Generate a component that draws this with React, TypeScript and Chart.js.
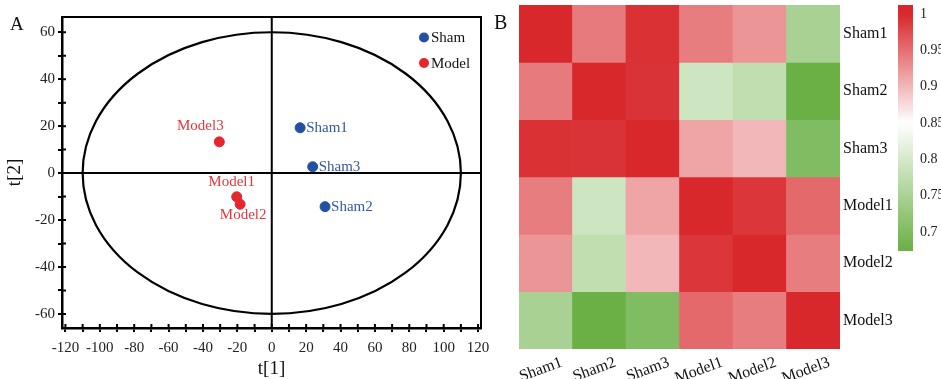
import React, { useEffect, useRef } from 'react';
import { Chart, registerables } from 'chart.js';

Chart.register(...registerables);

const SERIF = '"Liberation Serif", "Times New Roman", serif';

// ---------- Panel A data (PCA scores) ----------
const shamNames = ['Sham1', 'Sham2', 'Sham3'];
const shamT1 = [16.5, 31, 23.8];
const shamT2 = [19.3, -14.3, 2.7];
const modelNames = ['Model1', 'Model2', 'Model3'];
const modelT1 = [-20.4, -18.4, -30.5];
const modelT2 = [-10.1, -13.3, 13.3];
const xTickValues = [-120, -110, -100, -90, -80, -70, -60, -50, -40, -30, -20, -10, 0, 10, 20, 30, 40, 50, 60, 70, 80, 90, 100, 110, 120];
const yTickValues = [-60, -50, -40, -30, -20, -10, 0, 10, 20, 30, 40, 50, 60];
const ELLIPSE_T1 = 110;
const ELLIPSE_T2 = 60;

// ---------- Panel B data (correlation heatmap) ----------
const sampleNames = ['Sham1', 'Sham2', 'Sham3', 'Model1', 'Model2', 'Model3'];
const corrSham1 = [1, 0.943, 0.994, 0.941, 0.924, 0.748];
const corrSham2 = [0.943, 1, 0.992, 0.792, 0.776, 0.675];
const corrSham3 = [0.994, 0.992, 1, 0.913, 0.9, 0.701];
const corrModel1 = [0.941, 0.792, 0.913, 1, 0.99, 0.955];
const corrModel2 = [0.924, 0.776, 0.9, 0.99, 1, 0.941];
const corrModel3 = [0.748, 0.675, 0.701, 0.955, 0.941, 1];
const corrRows = [corrSham1, corrSham2, corrSham3, corrModel1, corrModel2, corrModel3];
const colorbarTicks = [0.7, 0.75, 0.8, 0.85, 0.9, 0.95, 1];
const COLORBAR_MIN = 0.674;
const COLORBAR_MAX = 1.0125;

// ---------- styles ----------
const BLUE = '#2450a4';
const BLUE_TEXT = '#3556a8';
const RED = '#e5262c';
const RED_TEXT = '#e8353b';
const C_LOW = [106, 176, 69];
const C_MID = [255, 255, 255];
const C_HIGH = [216, 40, 44];
const V_LOW = 0.675;
const V_MID = 0.85;
const V_HIGH = 1.0;

const labelPlacement: Record<string, { dx: number; dy: number; align: CanvasTextAlign }> = {
  Sham1: { dx: 6, dy: 0, align: 'left' },
  Sham2: { dx: 6, dy: 0, align: 'left' },
  Sham3: { dx: 6, dy: 0, align: 'left' },
  Model1: { dx: -5, dy: -15, align: 'center' },
  Model2: { dx: 3, dy: 11, align: 'center' },
  Model3: { dx: -19, dy: -16, align: 'center' },
};

function mix(a: number[], b: number[], t: number) {
  const tt = Math.max(0, Math.min(1, t));
  const c = a.map((v, i) => Math.round(v + (b[i] - v) * tt));
  return `rgb(${c[0]},${c[1]},${c[2]})`;
}
function colorFor(v: number) {
  if (v <= V_MID) return mix(C_LOW, C_MID, (v - V_LOW) / (V_MID - V_LOW));
  return mix(C_MID, C_HIGH, (v - V_MID) / (V_HIGH - V_MID));
}

const zeroPad = (s: any) => {
  s.paddingTop = 0;
  s.paddingBottom = 0;
  s.paddingLeft = 0;
  s.paddingRight = 0;
};

const pcaPlugin = {
  id: 'pcaDecor',
  beforeDatasetsDraw(chart: any) {
    const { ctx, chartArea: a } = chart;
    const xs = chart.scales.x;
    const ys = chart.scales.y;
    ctx.save();
    ctx.strokeStyle = '#000';
    const cx = xs.getPixelForValue(0);
    const cy = ys.getPixelForValue(0);
    const rx = Math.abs(xs.getPixelForValue(ELLIPSE_T1) - cx);
    const ry = Math.abs(ys.getPixelForValue(ELLIPSE_T2) - cy);
    ctx.lineWidth = 2.2;
    ctx.beginPath();
    ctx.ellipse(cx, cy, rx, ry, 0, 0, Math.PI * 2);
    ctx.stroke();
    ctx.lineWidth = 2;
    ctx.beginPath();
    ctx.moveTo(cx, a.top);
    ctx.lineTo(cx, a.bottom);
    ctx.moveTo(a.left, cy);
    ctx.lineTo(a.right, cy);
    ctx.stroke();
    ctx.beginPath();
    ctx.moveTo(a.left, a.top);
    ctx.lineTo(a.right, a.top);
    ctx.lineTo(a.right, a.bottom);
    ctx.stroke();
    ctx.beginPath();
    xs.ticks.forEach((t: any) => {
      const px = xs.getPixelForValue(t.value);
      ctx.moveTo(px, a.bottom);
      ctx.lineTo(px, a.bottom - 4);
    });
    ys.ticks.forEach((t: any) => {
      const py = ys.getPixelForValue(t.value);
      ctx.moveTo(a.left, py);
      ctx.lineTo(a.left + 4, py);
    });
    ctx.stroke();
    ctx.restore();
  },
  afterDatasetsDraw(chart: any) {
    const { ctx } = chart;
    ctx.save();
    ctx.font = `15px ${SERIF}`;
    ctx.textBaseline = 'middle';
    const groups = [
      { names: shamNames, color: BLUE_TEXT, idx: 0 },
      { names: modelNames, color: RED_TEXT, idx: 1 },
    ];
    groups.forEach((g) => {
      const meta = chart.getDatasetMeta(g.idx);
      meta.data.forEach((el: any, i: number) => {
        const name = g.names[i];
        const p = labelPlacement[name];
        ctx.fillStyle = g.color;
        ctx.textAlign = p.align;
        ctx.fillText(name, el.x + p.dx, el.y + p.dy);
      });
    });
    const legendItems = [
      { text: 'Sham', color: BLUE, y: 37.5 },
      { text: 'Model', color: RED, y: 63 },
    ];
    legendItems.forEach((it) => {
      ctx.fillStyle = it.color;
      ctx.beginPath();
      ctx.arc(424, it.y, 5, 0, Math.PI * 2);
      ctx.fill();
      ctx.fillStyle = '#111';
      ctx.textAlign = 'left';
      ctx.fillText(it.text, 431, it.y + 1);
    });
    ctx.font = `19px ${SERIF}`;
    ctx.textBaseline = 'alphabetic';
    ctx.fillStyle = '#111';
    ctx.textAlign = 'left';
    ctx.fillText('A', 10, 30);
    ctx.restore();
  },
};

const heatPlugin = {
  id: 'heatDecor',
  afterDraw(chart: any) {
    const { ctx } = chart;
    ctx.save();
    ctx.font = `20px ${SERIF}`;
    ctx.fillStyle = '#111';
    ctx.textBaseline = 'alphabetic';
    ctx.fillText('B', 4, 29);
    ctx.restore();
  },
};

export default function App() {
  const refA = useRef<HTMLCanvasElement>(null);
  const refB = useRef<HTMLCanvasElement>(null);
  const refC = useRef<HTMLCanvasElement>(null);

  useEffect(() => {
    const tickFont = { family: SERIF, size: 15 };
    const chartA = new Chart(refA.current!, {
      type: 'scatter',
      data: {
        datasets: [
          {
            label: 'Sham',
            data: shamT1.map((x, i) => ({ x, y: shamT2[i] })),
            backgroundColor: BLUE,
            borderColor: BLUE,
            pointRadius: 5,
            pointHoverRadius: 5,
          },
          {
            label: 'Model',
            data: modelT1.map((x, i) => ({ x, y: modelT2[i] })),
            backgroundColor: RED,
            borderColor: RED,
            pointRadius: 5,
            pointHoverRadius: 5,
          },
        ],
      },
      options: {
        animation: false,
        responsive: false,
        layout: { padding: { top: 17, right: 19, left: 0, bottom: 0 } },
        plugins: { legend: { display: false }, tooltip: { enabled: false } },
        scales: {
          x: {
            type: 'linear',
            min: -122,
            max: 121.7,
            afterBuildTicks: (s: any) => {
              s.ticks = xTickValues.map((v) => ({ value: v }));
            },
            afterFit: (s: any) => {
              s.height = 51;
              zeroPad(s);
            },
            ticks: {
              callback: (v: any) => (Number(v) % 20 === 0 ? String(v) : ''),
              font: tickFont,
              color: '#222',
              padding: 7,
              maxRotation: 0,
              autoSkip: false,
            },
            grid: { drawOnChartArea: false, drawTicks: true, tickLength: 4, color: '#000', lineWidth: 2 },
            border: { color: '#000', width: 2.5 },
            title: { display: true, text: 't[1]', font: { family: SERIF, size: 19, lineHeight: 1 }, color: '#111', padding: 0 },
          },
          y: {
            type: 'linear',
            min: -66,
            max: 66.5,
            afterBuildTicks: (s: any) => {
              s.ticks = yTickValues.map((v) => ({ value: v }));
            },
            afterFit: (s: any) => {
              s.width = 62;
              zeroPad(s);
            },
            ticks: {
              callback: (v: any) => (Number(v) % 20 === 0 ? String(v) : ''),
              font: tickFont,
              color: '#222',
              padding: 3,
              autoSkip: false,
            },
            grid: { drawOnChartArea: false, drawTicks: true, tickLength: 4, color: '#000', lineWidth: 2 },
            border: { color: '#000', width: 2.5 },
            title: { display: true, text: 't[2]', font: { family: SERIF, size: 19 }, color: '#111', padding: { top: 4, bottom: 0 } },
          },
        },
      },
      plugins: [pcaPlugin],
    } as any);

    const labelFont = { family: SERIF, size: 16 };
    const chartB = new Chart(refB.current!, {
      type: 'bar',
      data: {
        labels: sampleNames,
        datasets: corrRows.map((row, r) => ({
          label: sampleNames[r],
          data: sampleNames.map(() => [5 - r, 6 - r]),
          backgroundColor: row.map(colorFor),
          borderWidth: 0,
          grouped: false,
          barPercentage: 1,
          categoryPercentage: 1,
        })),
      },
      options: {
        animation: false,
        responsive: false,
        layout: { padding: { top: 5, left: 29, right: 0, bottom: 0 } },
        plugins: { legend: { display: false }, tooltip: { enabled: false } },
        scales: {
          x: {
            type: 'category',
            position: 'bottom',
            afterFit: (s: any) => {
              s.height = 30;
              zeroPad(s);
            },
            ticks: {
              font: labelFont,
              color: '#111',
              minRotation: 20,
              maxRotation: 20,
              labelOffset: 16,
              padding: 4,
              autoSkip: false,
            },
            grid: { display: false, drawTicks: false },
            border: { display: false },
          },
          y: {
            type: 'linear',
            position: 'right',
            min: 0,
            max: 6,
            afterBuildTicks: (s: any) => {
              s.ticks = sampleNames.map((_, i) => ({ value: 5.5 - i }));
            },
            afterFit: (s: any) => {
              s.width = 101;
              zeroPad(s);
            },
            ticks: {
              callback: (v: any) => sampleNames[Math.round(5.5 - Number(v))],
              font: labelFont,
              color: '#111',
              padding: 3,
              autoSkip: false,
            },
            grid: { display: false, drawTicks: false },
            border: { display: false },
          },
        },
      },
      plugins: [heatPlugin],
    } as any);

    const chartC = new Chart(refC.current!, {
      type: 'bar',
      data: {
        labels: ['scale'],
        datasets: [
          {
            data: [[COLORBAR_MIN, COLORBAR_MAX]],
            borderWidth: 0,
            barPercentage: 1,
            categoryPercentage: 1,
            backgroundColor: (ctx: any) => {
              const chart = ctx.chart;
              if (!chart.chartArea) return 'rgb(216,40,44)';
              const ys = chart.scales.y;
              const y0 = ys.getPixelForValue(COLORBAR_MIN);
              const y1 = ys.getPixelForValue(COLORBAR_MAX);
              const g = chart.ctx.createLinearGradient(0, y0, 0, y1);
              const n = 40;
              for (let i = 0; i <= n; i++) {
                const v = COLORBAR_MIN + ((COLORBAR_MAX - COLORBAR_MIN) * i) / n;
                g.addColorStop(i / n, colorFor(v));
              }
              return g;
            },
          },
        ],
      },
      options: {
        animation: false,
        responsive: false,
        layout: { padding: { top: 5, left: 8, right: 0, bottom: 9 } },
        plugins: { legend: { display: false }, tooltip: { enabled: false } },
        scales: {
          x: { display: false },
          y: {
            type: 'linear',
            position: 'right',
            min: COLORBAR_MIN,
            max: COLORBAR_MAX,
            afterBuildTicks: (s: any) => {
              s.ticks = colorbarTicks.map((v) => ({ value: v }));
            },
            afterFit: (s: any) => {
              s.width = 28;
              zeroPad(s);
            },
            ticks: {
              callback: (v: any) => String(v),
              font: { family: SERIF, size: 14 },
              color: '#222',
              padding: 7,
              autoSkip: false,
            },
            grid: { display: false, drawTicks: false },
            border: { display: false },
          },
        },
      },
    } as any);

    return () => {
      chartA.destroy();
      chartB.destroy();
      chartC.destroy();
    };
  }, []);

  return (
    <div style={{ position: 'absolute', left: 0, top: 0, width: 941, height: 379, background: '#fff', overflow: 'hidden' }}>
      <canvas ref={refA} width={500} height={379} style={{ position: 'absolute', left: 0, top: 0, display: 'block' }} />
      <canvas ref={refB} width={451} height={379} style={{ position: 'absolute', left: 490, top: 0, display: 'block' }} />
      <canvas ref={refC} width={51} height={260} style={{ position: 'absolute', left: 890, top: 0, display: 'block' }} />
    </div>
  );
}
